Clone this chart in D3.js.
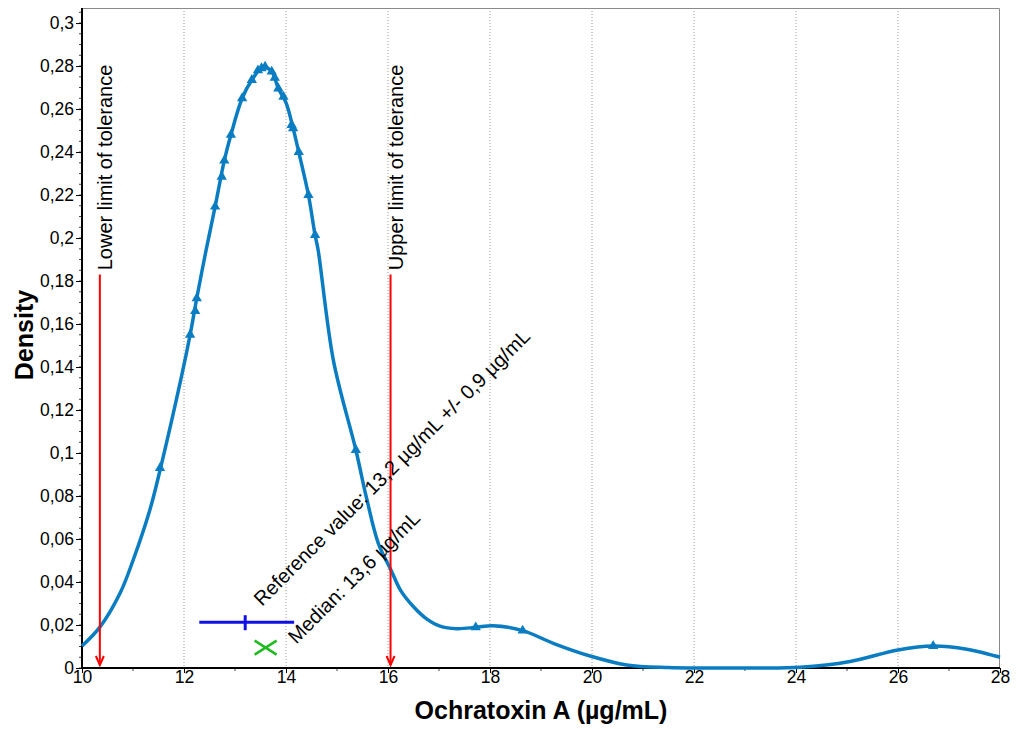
<!DOCTYPE html>
<html>
<head>
<meta charset="utf-8">
<script src="https://cdn.jsdelivr.net/npm/d3@7"></script>
<style>
  body { margin: 0; background: #fff; }
  svg { display: block; font-family: Arial, "Liberation Sans", sans-serif; }
</style>
</head>
<body>
<svg id="svg" width="1016" height="729"></svg>
<script>
// density curve
const curveX = [10.0, 10.35, 10.75, 11.0, 11.33, 11.54, 11.95, 12.12, 12.25, 12.43, 12.61, 12.79, 12.92, 13.14, 13.33,
  13.55, 13.72, 13.85, 14.0, 14.14, 14.25, 14.44, 14.57, 14.63, 14.93, 15.37, 15.58, 15.81, 16.06, 16.25, 16.5, 16.75,
  17.02, 17.35, 17.72, 18.06, 18.64, 19.24, 19.96, 20.68, 21.5, 22.0, 23.0, 24.08, 25.06, 26.0, 26.69, 27.35, 28.0]
const curveY = [0.0102, 0.019, 0.035, 0.05, 0.0735, 0.093, 0.1355, 0.155, 0.172, 0.194, 0.2146, 0.236, 0.248, 0.265, 0.2735,
  0.2795, 0.2774, 0.2696, 0.263, 0.251, 0.24, 0.22, 0.2014, 0.1944, 0.143, 0.1014, 0.079, 0.058, 0.0455, 0.036, 0.0285, 0.023,
  0.0195, 0.0183, 0.0189, 0.0197, 0.0174, 0.0115, 0.0056, 0.0014, 0.0002, 0, 0, 0.0003, 0.003, 0.0084, 0.0102, 0.0087, 0.005]

// participant results (triangles on the curve)
const resultX = [11.53, 12.12, 12.22, 12.25, 12.61, 12.74, 12.79, 12.92, 13.14, 13.33, 13.45, 13.52, 13.59, 13.72, 13.78,
  13.85, 13.95, 14.11, 14.14, 14.25, 14.44, 14.57, 15.37, 17.72, 18.64, 26.69]
const resultY = [0.093, 0.155, 0.166, 0.172, 0.2146, 0.2285, 0.236, 0.248, 0.265, 0.2735, 0.278, 0.279, 0.2797, 0.2774, 0.2745,
  0.2696, 0.2657, 0.2526, 0.251, 0.24, 0.22, 0.2014, 0.1014, 0.0189, 0.0174, 0.0102]

const xTicks = [10, 12, 14, 16, 18, 20, 22, 24, 26, 28]
const yTicks = d3.range(0, 0.3001, 0.02)

const referenceValue = 13.2
const referenceU = 0.9
const median = 13.6
const lowerLimit = 10.35
const upperLimit = 16.05

const margin = { top: 8, right: 16, bottom: 61, left: 82 }
const width = 1016 - margin.left - margin.right
const height = 729 - margin.top - margin.bottom

const svg = d3.select('#svg')
const g = svg.append('g').attr('transform', `translate(${margin.left},${margin.top})`)

const x = d3.scaleLinear().domain([10, 28]).range([0, width])
const y = d3.scaleLinear().domain([0, 0.307]).range([height, 0])

const fmt = v => String(+v.toFixed(2)).replace('.', ',')

// vertical dotted grid
g.append('g')
  .selectAll('line')
  .data(xTicks.slice(1, -1))
  .enter()
  .append('line')
  .attr('x1', d => x(d)).attr('x2', d => x(d))
  .attr('y1', 0).attr('y2', height)
  .attr('stroke', '#9a9a9a')
  .attr('stroke-dasharray', '1,2')

// top / right frame
g.append('path')
  .attr('d', `M0,0.5H${width - 0.5}V${height}`)
  .attr('fill', 'none')
  .attr('stroke', '#8a8a8a')

// minor ticks
g.append('g')
  .selectAll('line')
  .data(d3.range(0, 0.3051, 0.005))
  .enter()
  .append('line')
  .attr('x1', -3).attr('x2', 0)
  .attr('y1', d => y(d)).attr('y2', d => y(d))
  .attr('stroke', '#444')
g.append('g')
  .selectAll('line')
  .data(d3.range(11, 28, 2))
  .enter()
  .append('line')
  .attr('x1', d => x(d)).attr('x2', d => x(d))
  .attr('y1', height).attr('y2', height + 3)
  .attr('stroke', '#444')

const leftAxis = d3.axisLeft(y).tickValues(yTicks).tickFormat(fmt).tickSize(6).tickSizeOuter(0).tickPadding(2)
const bottomAxis = d3.axisBottom(x).tickValues(xTicks).tickSize(5).tickSizeOuter(0).tickPadding(-2.5)

const ya = g.append('g').call(leftAxis)
ya.select('.domain').remove()
ya.selectAll('text').attr('font-size', 17.5).attr('font-family', 'Arial, "Liberation Sans", sans-serif').attr('fill', '#000')
ya.append('line').attr('x1', 0).attr('x2', 0).attr('y1', 0).attr('y2', height).attr('stroke', '#000').attr('stroke-width', 2)

const xa = g.append('g').attr('transform', `translate(0,${height})`).call(bottomAxis)
xa.select('.domain').remove()
xa.selectAll('text').attr('font-size', 17.5).attr('font-family', 'Arial, "Liberation Sans", sans-serif').attr('fill', '#000')
xa.append('line').attr('x1', -1).attr('x2', width).attr('y1', 0).attr('y2', 0).attr('stroke', '#000').attr('stroke-width', 2)

// density curve
const curveData = curveX.map((d, i) => [d, curveY[i]])
g.append('path')
  .datum(curveData)
  .attr('fill', 'none')
  .attr('stroke', '#0a7dc2')
  .attr('stroke-width', 3.5)
  .attr('d', d3.line().x(d => x(d[0])).y(d => y(d[1])).curve(d3.curveCatmullRom.alpha(0.5)))

g.append('g')
  .selectAll('path')
  .data(resultX.map((d, i) => [d, resultY[i]]))
  .enter()
  .append('path')
  .attr('transform', d => `translate(${x(d[0])},${y(d[1])})`)
  .attr('d', d3.symbol(d3.symbolTriangle, 46))
  .attr('fill', '#0a7dc2')

// tolerance limits
const limits = [
  { v: lowerLimit, label: 'Lower limit of tolerance' },
  { v: upperLimit, label: 'Upper limit of tolerance' }
]
const lim = g.append('g').selectAll('g').data(limits).enter().append('g')
lim.append('line')
  .attr('x1', d => x(d.v)).attr('x2', d => x(d.v))
  .attr('y1', y(0.183)).attr('y2', height - 3)
  .attr('stroke', '#ff0000').attr('stroke-width', 2)
lim.append('path')
  .attr('d', d => `M${x(d.v) - 4},${height - 12}L${x(d.v)},${height - 3}L${x(d.v) + 4},${height - 12}`)
  .attr('fill', 'none').attr('stroke', '#ff0000').attr('stroke-width', 2)
lim.append('text')
  .attr('transform', d => `translate(${x(d.v) + 12.5},${y(0.185)}) rotate(-90)`)
  .attr('font-size', 20)
  .text(d => d.label)

// reference value with uncertainty
const refY = 0.0213
g.append('line')
  .attr('x1', x(referenceValue - referenceU)).attr('x2', x(referenceValue + referenceU) + 3)
  .attr('y1', y(refY)).attr('y2', y(refY))
  .attr('stroke', '#1010e6').attr('stroke-width', 3)
g.append('line')
  .attr('x1', x(referenceValue)).attr('x2', x(referenceValue))
  .attr('y1', y(refY) - 7).attr('y2', y(refY) + 8)
  .attr('stroke', '#1010e6').attr('stroke-width', 3)

// median
const medY = 0.0095
g.append('path')
  .attr('transform', `translate(${x(median)},${y(medY)})`)
  .attr('d', 'M-11,-7L11,7M-11,7L11,-7')
  .attr('stroke', '#1dbb1d').attr('stroke-width', 2.5).attr('fill', 'none')

g.append('text')
  .attr('transform', `translate(${x(13.53)},${y(0.0284)}) rotate(-45)`)
  .attr('font-size', 20)
  .text('Reference value: 13,2 µg/mL +/- 0,9 µg/mL')
g.append('text')
  .attr('transform', `translate(${x(14.2)},${y(0.0108)}) rotate(-45)`)
  .attr('font-size', 20)
  .text('Median: 13,6 µg/mL')

// axis titles
svg.append('text')
  .attr('x', margin.left + width / 2).attr('y', 719)
  .attr('text-anchor', 'middle')
  .attr('font-size', 25).attr('font-weight', 'bold')
  .text('Ochratoxin A (µg/mL)')
svg.append('text')
  .attr('transform', `translate(33,${margin.top + height / 2 - 3}) rotate(-90)`)
  .attr('text-anchor', 'middle')
  .attr('font-size', 25).attr('font-weight', 'bold')
  .text('Density')
</script>
</body>
</html>
